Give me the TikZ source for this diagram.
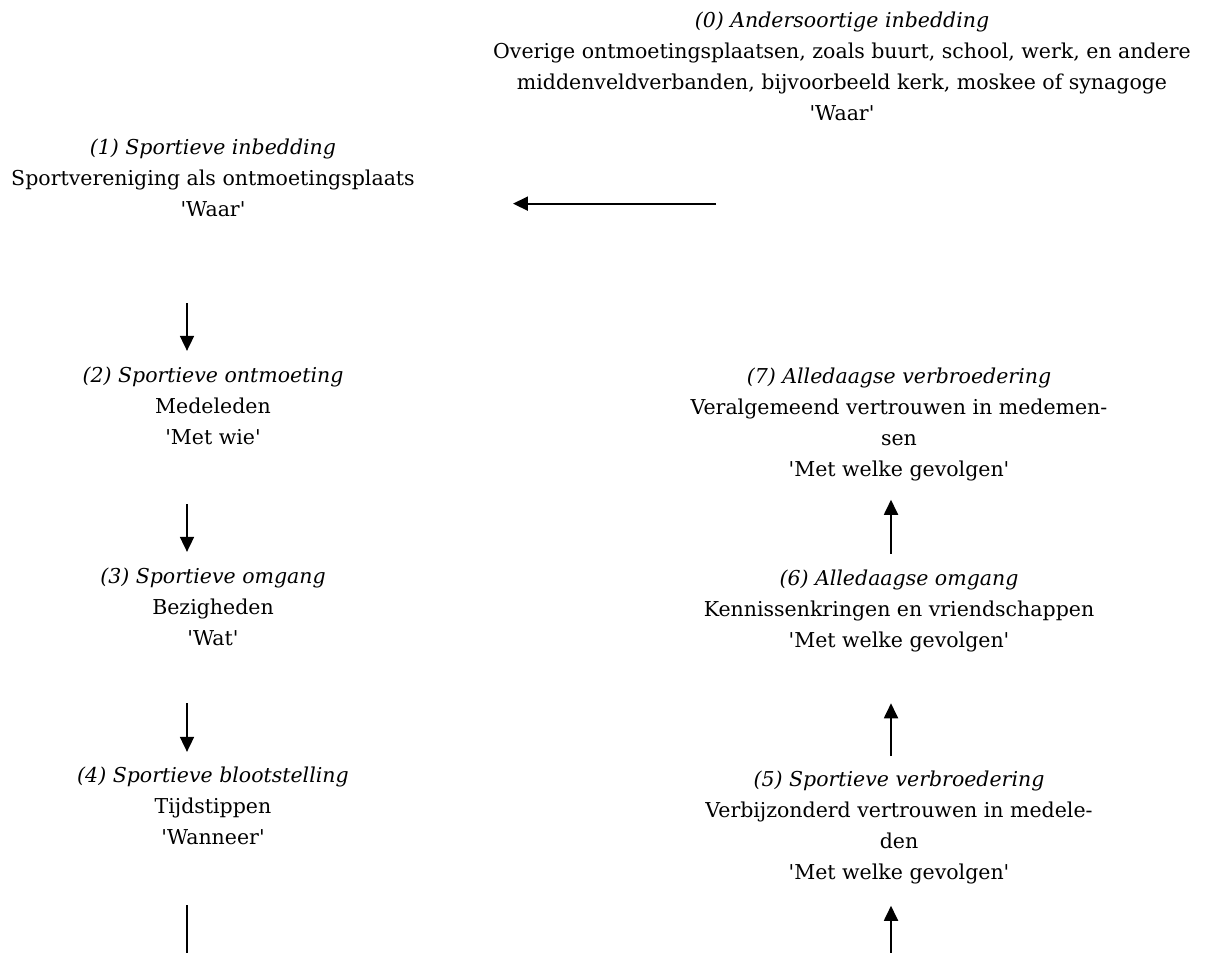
\documentclass[tikz,border=0pt]{standalone}
\usepackage{fontspec}
\setmainfont{DejaVu Serif}
\usetikzlibrary{arrows.meta,calc}
\newcommand{\sq}{\textquotesingle}

\begin{document}
\begin{tikzpicture}[x=1pt, y=-1pt, >={Triangle[length=15pt,width=14pt]},
        stap/.style={align=center, inner sep=0pt, font=\fontsize{20.5}{31}\selectfont},
        pijl/.style={->, line width=1.8pt}]
        \def\lx{-26pt} \def\rx{-8pt}
        \useasboundingbox (0,0) rectangle (1210,953);
        \node[stap] (n0) at (842,66) {\textit{(0) Andersoortige inbedding}\\Overige ontmoetingsplaatsen, zoals buurt, school, werk, en andere\\middenveldverbanden, bijvoorbeeld kerk, moskee of synagoge\\\sq Waar\sq};
        \node[stap] (n1) at (213,178) {\textit{(1) Sportieve inbedding}\\Sportvereniging als ontmoetingsplaats\\\sq Waar\sq};
        \node[stap] (n2) at (213,406) {\textit{(2) Sportieve ontmoeting}\\Medeleden\\\sq Met wie\sq};
        \node[stap] (n3) at (213,607) {\textit{(3) Sportieve omgang}\\Bezigheden\\\sq Wat\sq};
        \node[stap] (n4) at (213,806) {\textit{(4) Sportieve blootstelling}\\Tijdstippen\\\sq Wanneer\sq};
        \node[stap] (n5) at (899,827) {\textit{(5) Sportieve verbroedering}\\Verbijzonderd vertrouwen in medele-\\den\\\sq Met welke gevolgen\sq};
        \node[stap] (n6) at (899,611) {\textit{(6) Alledaagse omgang}\\Kennissenkringen en vriendschappen\\\sq Met welke gevolgen\sq};
        \node[stap] (n7) at (899,424) {\textit{(7) Alledaagse verbroedering}\\Veralgemeend vertrouwen in medemen-\\sen\\\sq Met welke gevolgen\sq};
        \coordinate (naar) at ([xshift=98pt]n1.east);
        \draw[pijl] ([xshift=-126pt,yshift=-83pt]n0.south) coordinate (van) -- (naar |- van);
        \draw[pijl] ([xshift=\lx,yshift=-86pt]n1.south) -- ([xshift=\lx,yshift=16pt]n2.north);
        \draw[pijl] ([xshift=\lx,yshift=-59pt]n2.south) -- ([xshift=\lx,yshift=16pt]n3.north);
        \draw[pijl] ([xshift=\lx,yshift=-57pt]n3.south) -- ([xshift=\lx,yshift=15pt]n4.north);
        \draw[line width=1.8pt] ([xshift=\lx,yshift=-60pt]n4.south) coordinate (uit) -- (uit |- 0,953);
        \coordinate (in) at ([xshift=\rx]n5.south |- 0,953);
        \draw[pijl] (in) -- ([xshift=\rx,yshift=-22pt]n5.south);
        \draw[pijl] ([xshift=\rx,yshift=14pt]n5.north) -- ([xshift=\rx,yshift=-51pt]n6.south);
        \draw[pijl] ([xshift=\rx,yshift=16pt]n6.north) -- ([xshift=\rx,yshift=-19pt]n7.south);
    \end{tikzpicture}
\end{document}
